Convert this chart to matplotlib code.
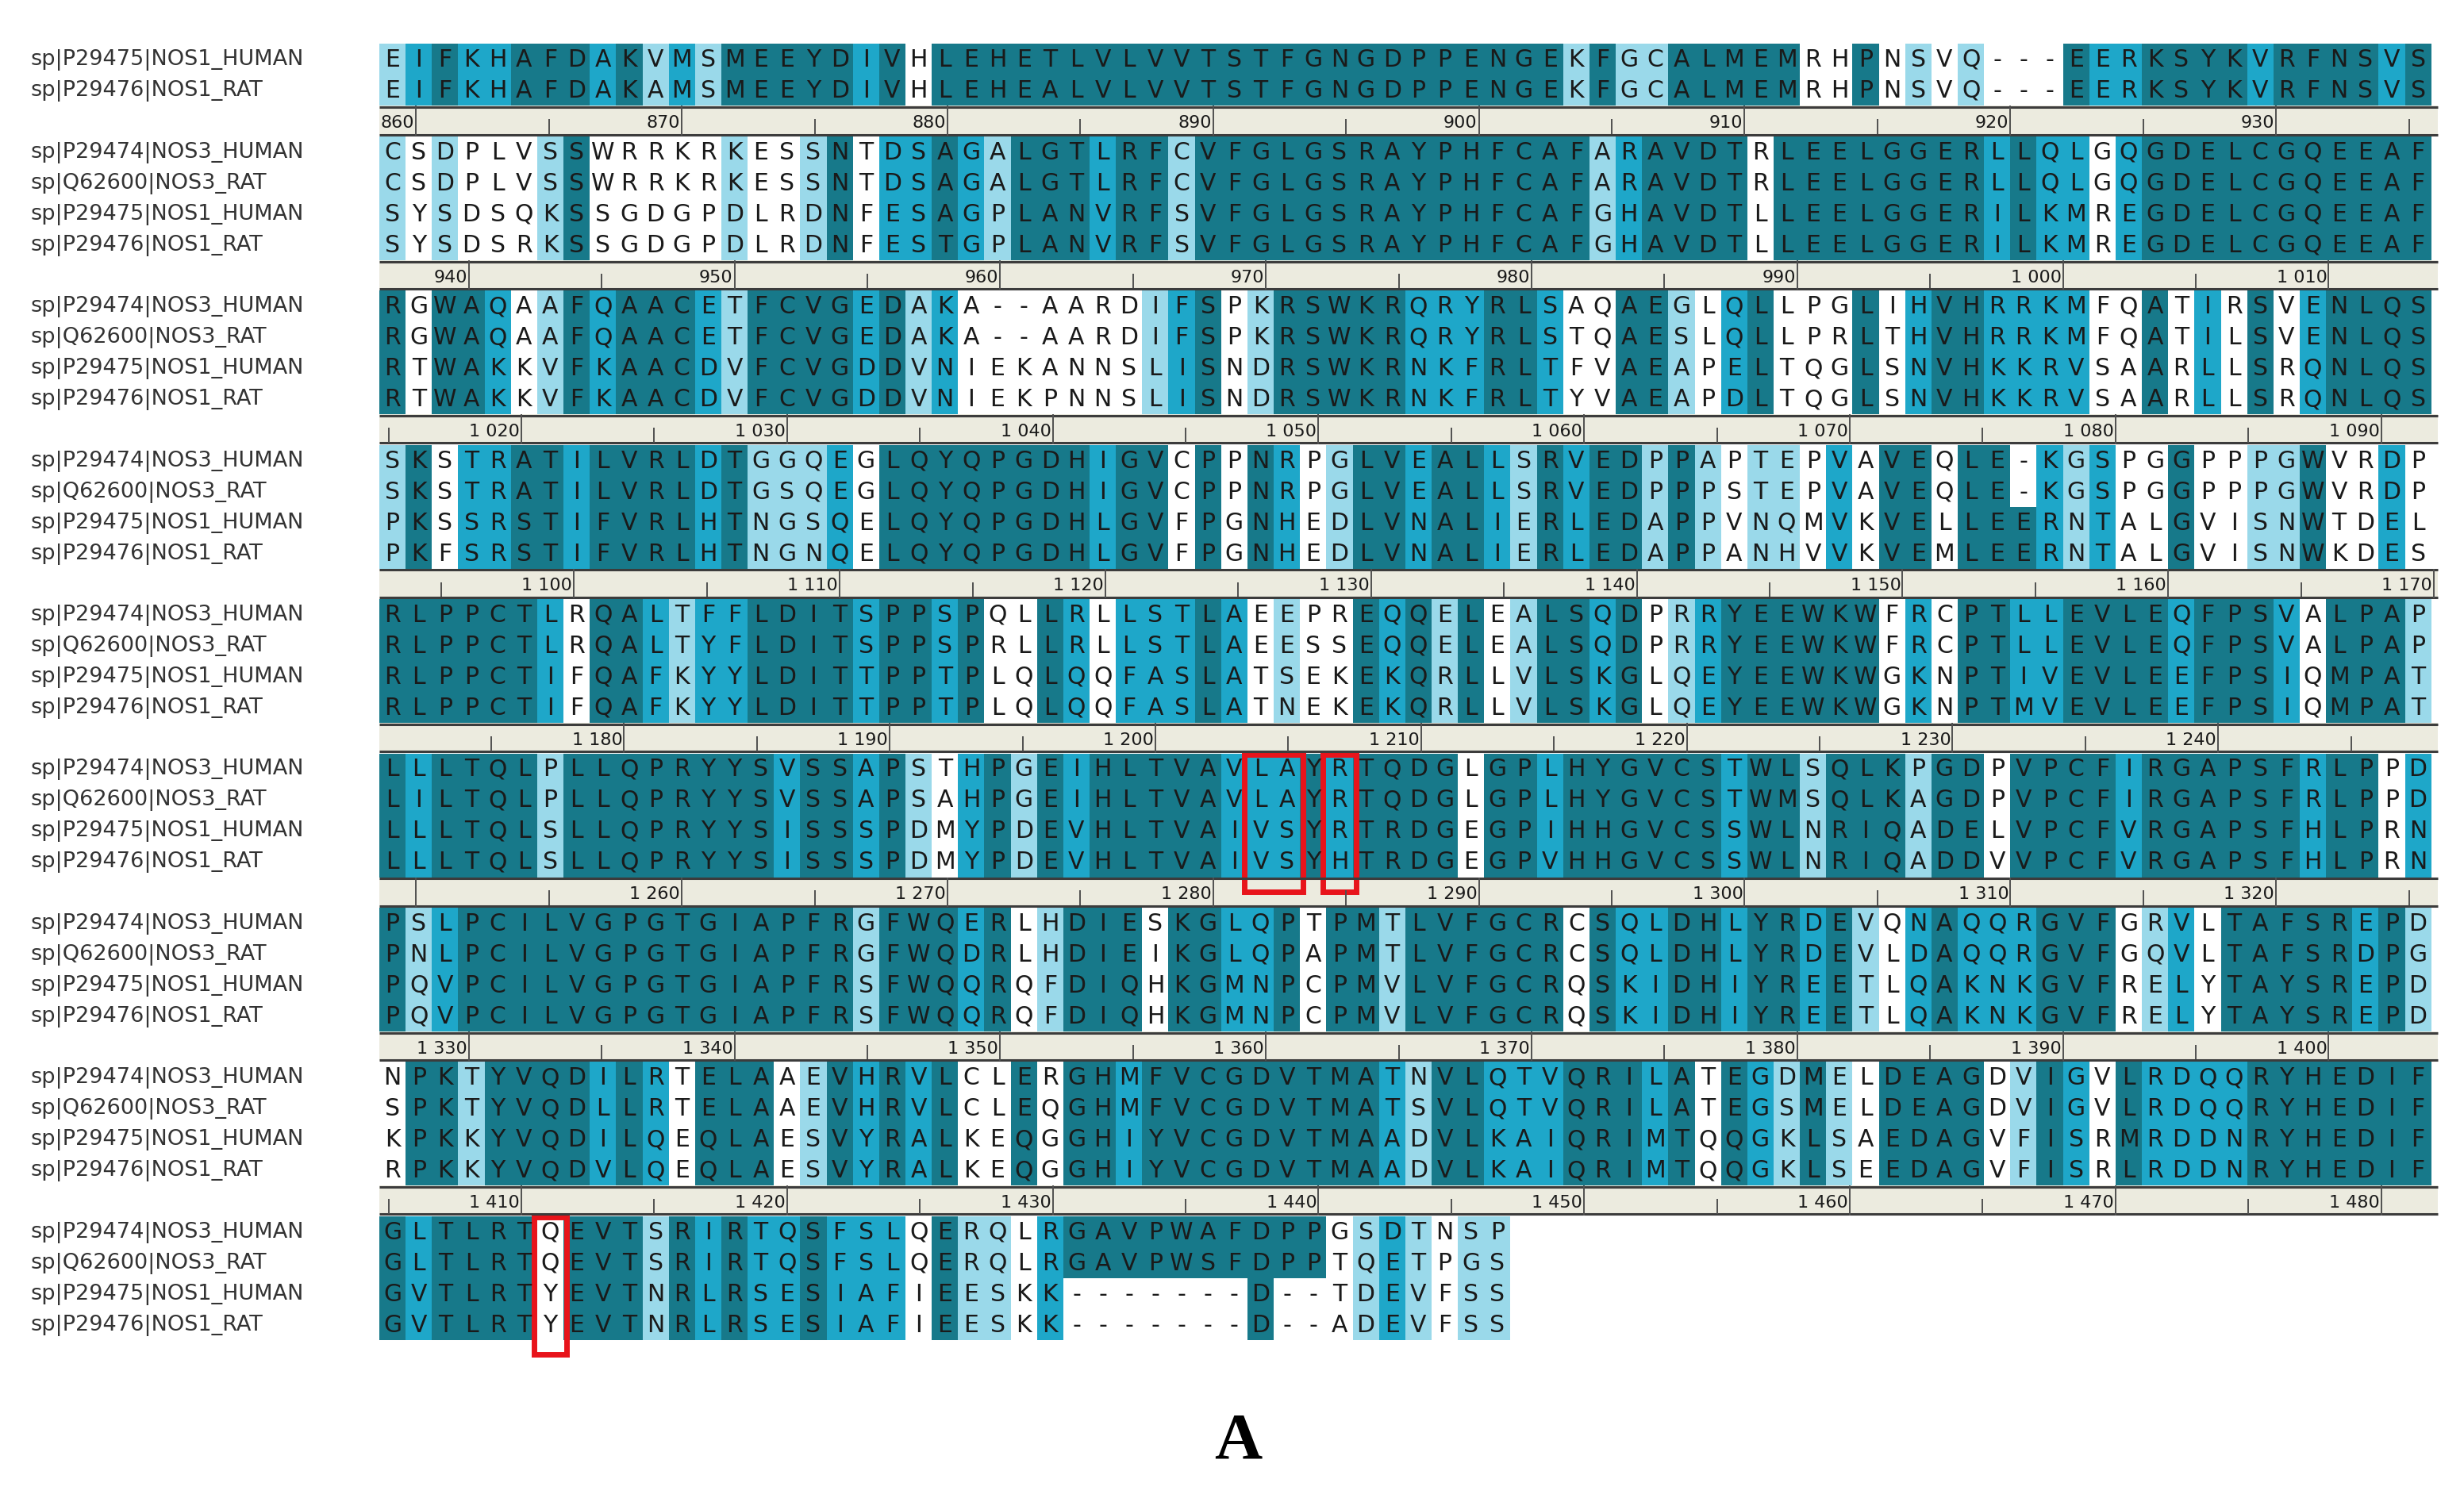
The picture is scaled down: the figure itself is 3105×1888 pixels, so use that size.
"""
Multiple sequence alignment panel (NOS1 / NOS3, human and rat), panel A.
Cells shaded by conservation level, ruler under each block, red boxes on
the residues of interest.
"""
import matplotlib
matplotlib.use("Agg")
import matplotlib.pyplot as plt

# ---------------------------------------------------------------- data
NAMES_4 = ["sp|P29474|NOS3_HUMAN", "sp|Q62600|NOS3_RAT",
           "sp|P29475|NOS1_HUMAN", "sp|P29476|NOS1_RAT"]
NAMES_2 = ["sp|P29475|NOS1_HUMAN", "sp|P29476|NOS1_RAT"]

BLOCK_1 = ["EIFKHAFDAKVMSMEEYDIVHLEHETLVLVVTSTFGNGDPPENGEKFGCALMEMRHPNSVQ---EERKSYKVRFNSVS",
           "EIFKHAFDAKAMSMEEYDIVHLEHEALVLVVTSTFGNGDPPENGEKFGCALMEMRHPNSVQ---EERKSYKVRFNSVS"]
BLOCK_2 = ["CSDPLVSSWRRKRKESSNTDSAGALGTLRFCVFGLGSRAYPHFCAFARAVDTRLEELGGERLLQLGQGDELCGQEEAF",
           "CSDPLVSSWRRKRKESSNTDSAGALGTLRFCVFGLGSRAYPHFCAFARAVDTRLEELGGERLLQLGQGDELCGQEEAF",
           "SYSDSQKSSGDGPDLRDNFESAGPLANVRFSVFGLGSRAYPHFCAFGHAVDTLLEELGGERILKMREGDELCGQEEAF",
           "SYSDSRKSSGDGPDLRDNFESTGPLANVRFSVFGLGSRAYPHFCAFGHAVDTLLEELGGERILKMREGDELCGQEEAF"]
BLOCK_3 = ["RGWAQAAFQAACETFCVGEDAKA--AARDIFSPKRSWKRQRYRLSAQAEGLQLLPGLIHVHRRKMFQATIRSVENLQS",
           "RGWAQAAFQAACETFCVGEDAKA--AARDIFSPKRSWKRQRYRLSTQAESLQLLPRLTHVHRRKMFQATILSVENLQS",
           "RTWAKKVFKAACDVFCVGDDVNIEKANNSLISNDRSWKRNKFRLTFVAEAPELTQGLSNVHKKRVSAARLLSRQNLQS",
           "RTWAKKVFKAACDVFCVGDDVNIEKPNNSLISNDRSWKRNKFRLTYVAEAPDLTQGLSNVHKKRVSAARLLSRQNLQS"]
BLOCK_4 = ["SKSTRATILVRLDTGGQEGLQYQPGDHIGVCPPNRPGLVEALLSRVEDPPAPTEPVAVEQLE-KGSPGGPPPGWVRDP",
           "SKSTRATILVRLDTGSQEGLQYQPGDHIGVCPPNRPGLVEALLSRVEDPPPSTEPVAVEQLE-KGSPGGPPPGWVRDP",
           "PKSSRSTIFVRLHTNGSQELQYQPGDHLGVFPGNHEDLVNALIERLEDAPPVNQMVKVELLEERNTALGVISNWTDEL",
           "PKFSRSTIFVRLHTNGNQELQYQPGDHLGVFPGNHEDLVNALIERLEDAPPANHVVKVEMLEERNTALGVISNWKDES"]
BLOCK_5 = ["RLPPCTLRQALTFFLDITSPPSPQLLRLLSTLAEEPREQQELEALSQDPRRYEEWKWFRCPTLLEVLEQFPSVALPAP",
           "RLPPCTLRQALTYFLDITSPPSPRLLRLLSTLAEESSEQQELEALSQDPRRYEEWKWFRCPTLLEVLEQFPSVALPAP",
           "RLPPCTIFQAFKYYLDITTPPTPLQLQQFASLATSEKEKQRLLVLSKGLQEYEEWKWGKNPTIVEVLEEFPSIQMPAT",
           "RLPPCTIFQAFKYYLDITTPPTPLQLQQFASLATNEKEKQRLLVLSKGLQEYEEWKWGKNPTMVEVLEEFPSIQMPAT"]
BLOCK_6 = ["LLLTQLPLLQPRYYSVSSAPSTHPGEIHLTVAVLAYRTQDGLGPLHYGVCSTWLSQLKPGDPVPCFIRGAPSFRLPPD",
           "LILTQLPLLQPRYYSVSSAPSAHPGEIHLTVAVLAYRTQDGLGPLHYGVCSTWMSQLKAGDPVPCFIRGAPSFRLPPD",
           "LLLTQLSLLQPRYYSISSSPDMYPDEVHLTVAIVSYRTRDGEGPIHHGVCSSWLNRIQADELVPCFVRGAPSFHLPRN",
           "LLLTQLSLLQPRYYSISSSPDMYPDEVHLTVAIVSYHTRDGEGPVHHGVCSSWLNRIQADDVVPCFVRGAPSFHLPRN"]
BLOCK_7 = ["PSLPCILVGPGTGIAPFRGFWQERLHDIESKGLQPTPMTLVFGCRCSQLDHLYRDEVQNAQQRGVFGRVLTAFSREPD",
           "PNLPCILVGPGTGIAPFRGFWQDRLHDIEIKGLQPAPMTLVFGCRCSQLDHLYRDEVLDAQQRGVFGQVLTAFSRDPG",
           "PQVPCILVGPGTGIAPFRSFWQQRQFDIQHKGMNPCPMVLVFGCRQSKIDHIYREETLQAKNKGVFRELYTAYSREPD",
           "PQVPCILVGPGTGIAPFRSFWQQRQFDIQHKGMNPCPMVLVFGCRQSKIDHIYREETLQAKNKGVFRELYTAYSREPD"]
BLOCK_8 = ["NPKTYVQDILRTELAAEVHRVLCLERGHMFVCGDVTMATNVLQTVQRILATEGDMELDEAGDVIGVLRDQQRYHEDIF",
           "SPKTYVQDLLRTELAAEVHRVLCLEQGHMFVCGDVTMATSVLQTVQRILATEGSMELDEAGDVIGVLRDQQRYHEDIF",
           "KPKKYVQDILQEQLAESVYRALKEQGGHIYVCGDVTMAADVLKAIQRIMTQQGKLSAEDAGVFISRMRDDNRYHEDIF",
           "RPKKYVQDVLQEQLAESVYRALKEQGGHIYVCGDVTMAADVLKAIQRIMTQQGKLSEEDAGVFISRLRDDNRYHEDIF"]
BLOCK_9 = ["GLTLRTQEVTSRIRTQSFSLQERQLRGAVPWAFDPPGSDTNSP",
           "GLTLRTQEVTSRIRTQSFSLQERQLRGAVPWSFDPPTQETPGS",
           "GVTLRTYEVTNRLRSESIAFIEESKK-------D--TDEVFSS",
           "GVTLRTYEVTNRLRSESIAFIEESKK-------D--ADEVFSS"]
BLOCKS = [BLOCK_1, BLOCK_2, BLOCK_3, BLOCK_4, BLOCK_5, BLOCK_6, BLOCK_7, BLOCK_8, BLOCK_9]

# conservation level per column: 0 none, 1 low, 2 medium, 3 high
LEVELS = [
    "12322333231213333323" "0333333333" "3333333333" "3333313113" "3333003010" "1000322333" "32333323",
    "1010001300" "0001001302" "2321333233" "1333333333" "3333331233" "3303333333" "3232202333" "33333333",
    "3033201323" "3321333323" "1200000001" "2301333332" "2233200331" "0230003023" "3222200302" "03023333",
    "1302233233" "3323111203" "3333333233" "0303201332" "3321323313" "1011020330" "3332120030" "01130020",
    "3333332033" "2122333323" "3230032022" "2320100323" "1301332301" "2333333020" "3322333323" "33203331",
    "3233331333" "3333323323" "1023132333" "3322232333" "3033233333" "3233133313" "3033332333" "33323302",
    "3123333333" "3333333313" "3323013330" "3322303313" "3333303223" "3233231023" "2223330120" "33333231",
    "0331333323" "2033301323" "2300303323" "3333333321" "3322233323" "0321310333" "3013203222" "23333333",
    "3233330333" "1323223222" "0311023333" "3333330121" "011",
]

# ruler under each block: first major label and the column it sits on
RULER_START = [860, 940, 1020, 1100, 1180, 1250, 1330, 1410]
RULER_COL = [1.4, 3.4, 5.4, 7.4, 9.3, 1.4, 3.4, 5.4]

# highlighted columns: (block, first column, last column)
HIGHLIGHTS = [(5, 33, 34), (5, 36, 36), (8, 6, 6)]

PALETTE = {0: "#ffffff", 1: "#9ad9ea", 2: "#1ea7c9", 3: "#17798a"}

# ---------------------------------------------------------------- layout
W, H = 3105, 1888
X0, CW, RH = 478, 33.15, 39.0
SEQ_FONT = ["DejaVu Sans Condensed", "DejaVu Sans"]


def band_top(b):
    return 55 if b == 0 else 172 + 194.4 * (b - 1)


fig = plt.figure(figsize=(W / 100, H / 100), dpi=100)
ax = fig.add_axes([0, 0, 1, 1])
ax.set_xlim(0, W)
ax.set_ylim(H, 0)
ax.axis("off")

for b, rows in enumerate(BLOCKS):
    top = band_top(b)
    names = NAMES_2 if b == 0 else NAMES_4
    levels = [int(ch) for ch in LEVELS[b]]
    ncol = len(rows[0])
    xs = [X0 + (c + 0.5) * CW for c in range(ncol)]
    for r, seq in enumerate(rows):
        y = top + r * RH
        colors = [PALETTE[0] if ch == "-" else PALETTE[levels[c]] for c, ch in enumerate(seq)]
        ax.bar(xs, RH, bottom=y, width=CW, color=colors, linewidth=0, align="center")
        for c, ch in enumerate(seq):
            ax.text(xs[c], y + RH * 0.52, ch, ha="center", va="center", fontsize=21.5,
                    color="#1a1a1a", family=SEQ_FONT)
        ax.text(38, y + RH * 0.52, names[r], ha="left", va="center", fontsize=19.5,
                color="#333333", family=SEQ_FONT)

    # ruler
    if b < len(RULER_START):
        r_top = top + len(rows) * RH
        r_bot = band_top(b + 1) - 1
        x_end = X0 + 78 * CW + 8
        ax.bar((X0 + x_end) / 2, r_bot - r_top, bottom=r_top, width=x_end - X0,
               color="#ecebdf", linewidth=0)
        ax.hlines([r_top + 1.5, r_bot - 1.5], X0, x_end, color="#3c3c3c", linewidth=2.2)
        for k in range(-1, 9):
            col = RULER_COL[b] + 10.1 * k
            if 0 <= col <= 78.5:
                x = X0 + col * CW
                ax.vlines(x, r_top, r_bot, color="#505050", linewidth=1.4)
                num = RULER_START[b] + 10 * k
                if col >= (3 if num >= 1000 else 1.2):
                    lab = f"{num // 1000} {num % 1000:03d}" if num >= 1000 else str(num)
                    ax.text(x - 2, r_top + (r_bot - r_top) * 0.58, lab, ha="right",
                            va="center", fontsize=16, color="#1a1a1a", family=SEQ_FONT)
            mcol = col + 5.05
            if 0 <= mcol <= 78.5:
                x = X0 + mcol * CW
                ax.vlines(x, r_top + (r_bot - r_top) * 0.45, r_bot - 2, color="#505050",
                          linewidth=1.4)

# red boxes
for b, c0, c1 in HIGHLIGHTS:
    top = band_top(b)
    bot = top + 4 * RH + 18
    ax.add_patch(plt.Rectangle((X0 + c0 * CW - 4, top + 1), (c1 - c0 + 1) * CW + 8,
                               bot - top - 1, fill=False, edgecolor="#e8141b", linewidth=5))

ax.text(1560, 1818, "A", ha="center", va="center", fontsize=60, fontweight="bold",
        family=["Liberation Serif", "DejaVu Serif"], color="black")

fig.savefig("out.png", dpi=100)
